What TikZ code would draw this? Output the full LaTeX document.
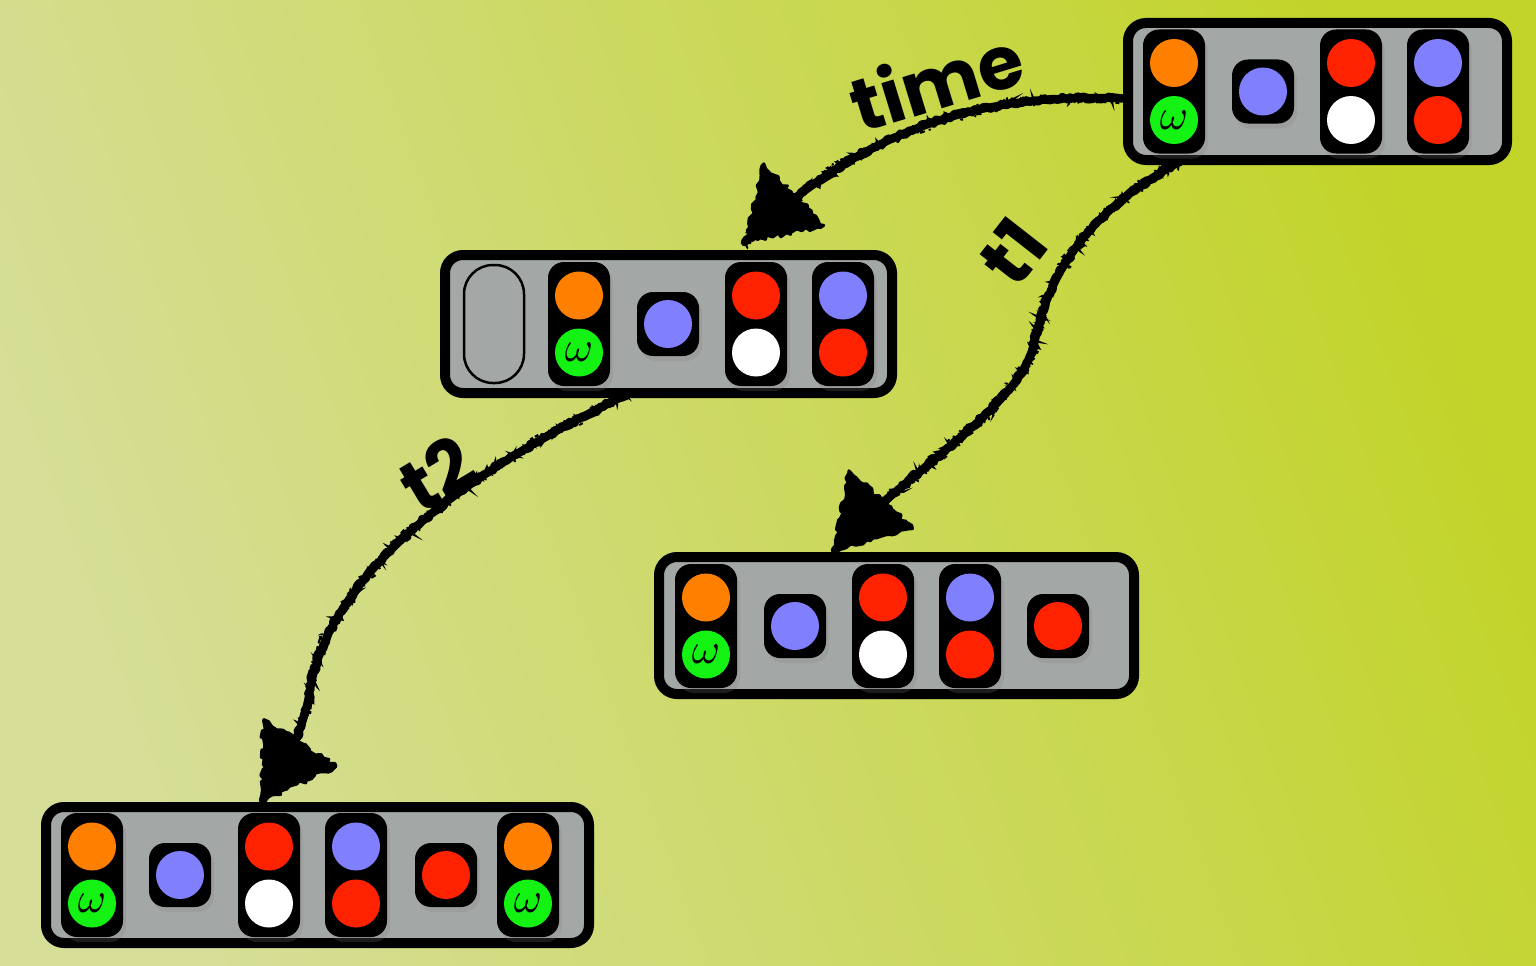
\documentclass[tikz,border=0pt]{standalone}
\usepackage{fontspec}
\usepackage{graphicx}
\usetikzlibrary{arrows.meta,shadows,decorations.pathmorphing,calc}
\newfontfamily\labfont{Poppins}
\definecolor{bgl}{RGB}{214,222,152}
\definecolor{bgr}{RGB}{194,212,42}
\definecolor{boxg}{RGB}{163,167,165}
\definecolor{orng}{RGB}{255,128,0}
\definecolor{grn}{RGB}{20,242,20}
\definecolor{blu}{RGB}{128,128,255}
\definecolor{rd}{RGB}{255,34,0}
\pgfdeclarelayer{bg}
\pgfsetlayers{bg,main}
\tikzset{
  panel/.style={draw=black, line width=10pt, fill=boxg, rounded corners=18pt, inner sep=0pt,
    drop shadow={shadow xshift=2pt,shadow yshift=-4pt,opacity=0.18}},
  tallcell/.style={fill=black, rounded corners=16pt, minimum width=62pt, minimum height=124pt, inner sep=0pt,
    drop shadow={shadow xshift=3pt,shadow yshift=-5pt,opacity=0.22}},
  smallcell/.style={fill=black, rounded corners=16pt, minimum width=62pt, minimum height=64pt, inner sep=0pt,
    drop shadow={shadow xshift=3pt,shadow yshift=-5pt,opacity=0.22}},
  slot/.style={draw=black, line width=2.5pt, rounded corners=29pt, minimum width=60pt, minimum height=118pt, inner sep=0pt},
  dot/.style={circle, minimum size=48pt, inner sep=0pt, draw=none},
  lab/.style={font=\labfont\bfseries\fontsize{74}{74}\selectfont, inner sep=0pt},
  chalkbase/.style={draw=black, line width=8pt, line cap=round},
  chalkrough/.style={draw=black, line width=8pt, line cap=round, line join=round, decorate,
    decoration={random steps,segment length=3pt,amplitude=2pt}},
  chalkfringe/.style={draw=black, line width=2pt, decorate,
    decoration={random steps,segment length=2.5pt,amplitude=6pt}, dash pattern=on 5pt off 3pt on 2pt off 4pt},
  chalkhead/.style={fill=black, draw=black, line width=3pt, line join=round, decorate,
    decoration={random steps,segment length=4pt,amplitude=2.5pt}},
}
\newcommand\tcell[6]{%
  \node[tallcell] (#1) at (#2,#3) {};
  \node[dot, fill=#4] (#1t) at (#2,#3-28.5) {};
  \node[dot, fill=#5] (#1b) at (#2,#3+28.5) {#6};
}
\newcommand\scell[4]{%
  \node[smallcell] (#1) at (#2,#3) {};
  \node[dot, fill=#4] (#1d) at (#2,#3) {};
}
\newcommand\om{\scalebox{4.3}{$\omega$}}
% chalk arrow head: tip, point on the shaft behind it, name prefix
\newcommand\chead[3]{%
  \coordinate (#3m) at ($(#1)!68pt!(#2)$);
  \coordinate (#3l) at ($(#3m)!43pt!90:(#1)$);
  \coordinate (#3r) at ($(#3m)!43pt!-90:(#1)$);
  \path[chalkhead] (#1) -- (#3l) -- (#3r) -- cycle;
}
\begin{document}
\begin{tikzpicture}[x=1pt,y=-1pt]
\pgfmathsetseed{11}
\useasboundingbox (0,0) rectangle (1536,966);

% panels
\node[panel, minimum width=379pt, minimum height=137pt] (b1) at (1317.5,91.5) {};
\node[panel, minimum width=447pt, minimum height=138pt] (b2) at (668.5,324) {};
\node[panel, minimum width=475pt, minimum height=137pt] (b3) at (896.5,625.5) {};
\node[panel, minimum width=543pt, minimum height=136pt] (b4) at (317.5,875) {};

% panel 1
\tcell{a1}{1174}{91.5}{orng}{grn}{\om}
\scell{a2}{1263}{91.5}{blu}
\tcell{a3}{1351}{91.5}{rd}{white}{}
\tcell{a4}{1438}{91.5}{blu}{rd}{}

% panel 2
\node[slot] (c0) at (494,324) {};
\tcell{c1}{579}{324}{orng}{grn}{\om}
\scell{c2}{668}{324}{blu}
\tcell{c3}{756}{324}{rd}{white}{}
\tcell{c4}{843}{324}{blu}{rd}{}

% panel 3
\tcell{d1}{706}{626}{orng}{grn}{\om}
\scell{d2}{795}{626}{blu}
\tcell{d3}{883}{626}{rd}{white}{}
\tcell{d4}{970}{626}{blu}{rd}{}
\scell{d5}{1058}{626}{rd}

% panel 4
\tcell{f1}{92}{875}{orng}{grn}{\om}
\scell{f2}{180}{875}{blu}
\tcell{f3}{269}{875}{rd}{white}{}
\tcell{f4}{356}{875}{blu}{rd}{}
\scell{f5}{446}{875}{rd}
\tcell{f6}{528}{875}{orng}{grn}{\om}

% arrow ends
\coordinate (s1) at ([yshift=-7pt]b1.west);
\coordinate (e1) at ([xshift=305pt,yshift=8pt]b2.north west);
\coordinate (s2) at ([xshift=58pt,yshift=4pt]b1.south west);
\coordinate (e2) at ([xshift=181pt,yshift=2pt]b3.north west);
\coordinate (s3) at ([xshift=188pt,yshift=4pt]b2.south west);
\coordinate (e3) at ([xshift=222pt,yshift=2pt]b4.north west);
\coordinate (q1) at (860,130);
\coordinate (q2) at (915,462);
\coordinate (q3) at (294,752);

\def\pA{(s1) .. controls (980,92) and (q1) .. (e1)}
\def\pB{(s2) .. controls (1090,210) and (1050,270) .. (1035,340) .. controls (1020,410) and (q2) .. (e2)}
\def\pC{(s3) .. controls (470,470) and (330,570) .. (310,690) .. controls (305,720) and (q3) .. (e3)}

\begin{pgfonlayer}{bg}
\shade[left color=bgl, right color=bgr, shading angle=110] (0,0) rectangle (1536,966);
\draw[chalkbase] \pA;
\draw[chalkbase] \pB;
\draw[chalkbase] \pC;
\draw[chalkrough] \pA;
\draw[chalkrough] \pB;
\draw[chalkrough] \pC;
\draw[chalkfringe] \pA;
\draw[chalkfringe] \pB;
\draw[chalkfringe] \pC;
\draw[chalkfringe, dash pattern=on 3pt off 5pt on 4pt off 2pt] \pA;
\draw[chalkfringe, dash pattern=on 3pt off 5pt on 4pt off 2pt] \pB;
\draw[chalkfringe, dash pattern=on 3pt off 5pt on 4pt off 2pt] \pC;
\chead{e1}{q1}{h1}
\chead{e2}{q2}{h2}
\chead{e3}{q3}{h3}
\end{pgfonlayer}

% labels
\node[lab, rotate=17] (ltime) at (936,80) {time};
\node[lab, rotate=52] (lt1) at (1013,252) {t1};
\node[lab, rotate=31] (lt2) at (437,474) {t2};
\end{tikzpicture}
\end{document}
